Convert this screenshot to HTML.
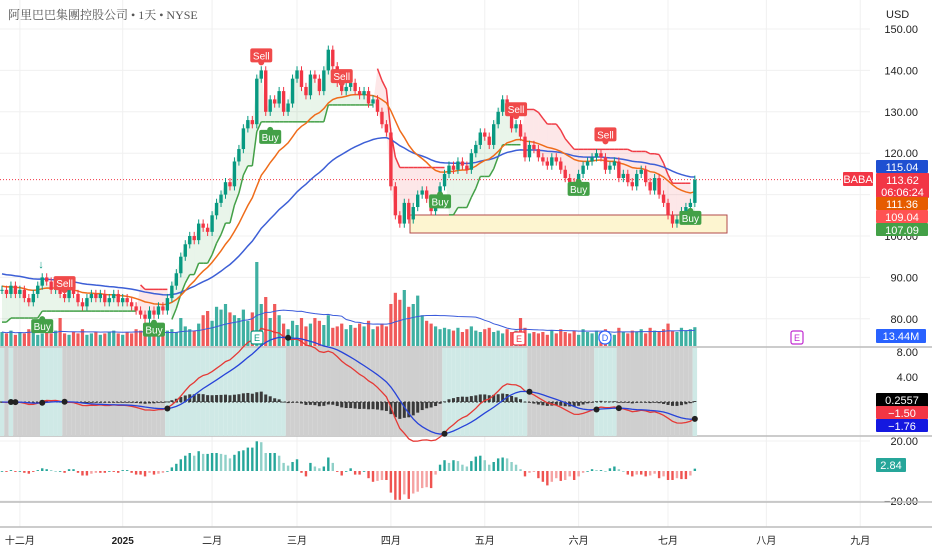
<!DOCTYPE html>
<html><head><meta charset="utf-8">
<style>
html,body{margin:0;padding:0;background:#fff;}
svg{display:block;font-family:"Liberation Sans","Noto Sans CJK SC",sans-serif;}
</style></head>
<body>
<svg id="chart" width="932" height="550" viewBox="0 0 932 550" xmlns="http://www.w3.org/2000/svg">
<rect width="932" height="550" fill="#fff"/>
<g id="grid"></g>
<g id="bg"></g>
<g id="marks"></g>
<g id="ann"></g>
<text x="8" y="19" font-size="12" fill="#555" font-family="'Liberation Serif','Noto Serif CJK SC',serif">阿里巴巴集團控股公司 • 1天 • NYSE</text>
<text x="886" y="18" font-size="11" fill="#222">USD</text>
</svg>
<script>
const closes=[87,86,88,86,87,85,84,86,88,90,
89,87,88,86,85,87,86,84,83,85,
86,85,86,84,85,86,84,85,84,83,
82,81,80,82,81,83,82,85,88,91,
95,98,100,99,103,102,101,105,108,110,
113,112,118,121,126,128,127,138,140,130,
133,132,135,130,132,138,140,136,134,139,
138,135,140,145,141,137,135,136,137,135,
134,135,132,133,130,127,125,112,105,103,
108,104,107,110,111,109,106,108,112,115,
117,116,118,117,116,120,122,125,124,122,
127,130,133,131,126,127,124,119,122,121,
119,118,117,119,118,116,114,113,112,115,
117,118,119,120,119,116,117,118,114,115,
113,112,115,116,113,111,114,110,108,105,
103,104,106,107,108,113.6];
const volumes=[10,9,11,8,10,9,12,10,8,9,
10,9,11,20,9,8,10,9,12,8,
9,10,8,9,10,11,9,8,10,9,
12,11,10,9,8,10,9,11,12,10,
20,14,12,11,16,22,25,18,28,26,
30,24,22,20,26,18,24,60,30,35,
20,30,22,16,12,18,15,20,14,16,
20,18,15,22,13,14,16,12,15,13,
16,14,18,12,14,16,14,30,38,33,
40,28,30,36,22,18,16,14,12,13,
12,11,13,10,12,14,11,10,12,13,
10,11,9,12,10,11,20,13,9,10,
9,10,8,11,9,12,10,9,11,8,
12,10,9,11,10,12,9,8,13,10,
9,11,10,12,9,13,11,10,12,16,
11,10,13,11,12,13.44];
const priceTicks=[150,140,130,120,110,100,90,80];
const monthLabels=["十二月","2025","二月","三月","四月","五月","六月","七月","八月","九月"];
const monthIdx=[4,27,47,66,87,108,129,149,171,192];
const signalsBuy=[9,34,60,98,129,154];
const signalsSell=[14,58,76,115,135];
const macdTicks=[8,4];
const oscTicks=[20,-20];

const NS="http://www.w3.org/2000/svg";
function el(tag,attrs,parent,txt){const e=document.createElementNS(NS,tag);for(const k in attrs)e.setAttribute(k,attrs[k]);if(txt!==undefined)e.textContent=txt;(parent||document.getElementById('marks')).appendChild(e);return e;}
const X=i=>2+i*4.47;
const YP=p=>29+(150-p)*4.14;
const YV=v=>346-v*1.4;
const YM=m=>402-m*6.25;
const YO=o=>471-o*1.5;
const n=closes.length;
const grid=document.getElementById('grid'),bg=document.getElementById('bg'),marks=document.getElementById('marks'),ann=document.getElementById('ann');

monthIdx.forEach((mi,k)=>{const l=el('line',{x1:X(mi),x2:X(mi),y1:0,y2:527,stroke:'#f0f0f0','stroke-width':1},grid);

const t=el('text',{x:X(mi),y:544,'font-size':10,'text-anchor':'middle',fill:'#222','font-weight':k==1?'bold':'normal'},grid,monthLabels[k]);
});
priceTicks.forEach(p=>{el('line',{x1:0,x2:870,y1:YP(p),y2:YP(p),stroke:'#f0f0f0'},grid);
const t=el('text',{x:918,y:YP(p)+4,'font-size':11,'text-anchor':'end',fill:'#222'},grid,p.toFixed(2));
});
macdTicks.forEach(m=>{const t=el('text',{x:918,y:YM(m)+4,'font-size':11,'text-anchor':'end',fill:'#222'},grid,m.toFixed(2));
});
oscTicks.forEach(o=>{el('line',{x1:0,x2:870,y1:YO(o),y2:YO(o),stroke:'#f0f0f0'},grid);
const t=el('text',{x:918,y:YO(o)+4,'font-size':11,'text-anchor':'end',fill:'#222'},grid,(o<0?'−':'')+Math.abs(o).toFixed(2));
});
[347,436,502,527].forEach(y=>el('line',{x1:0,x2:932,y1:y,y2:y,stroke:'#bbb','stroke-width':1.5},grid));

function ema(a,p,seed){const k=2/(p+1);let r=[],v=seed!==undefined?seed:a[0];a.forEach((c,i)=>{v=i==0&&seed===undefined?c:c*k+v*(1-k);r.push(v);});return r;}
const emaS=ema(closes,20,88);
const emaL=ema(closes,50,91);
const e26=ema(closes,26,87);
const macd=ema(closes,12,87).map((v,i)=>v-e26[i]);
const sig=ema(macd,9,0);
let st=[],dir=[],atr=3;let up=closes[0]-6,dn=closes[0]+6,d=1;
for(let i=0;i<n;i++){const tr=i?Math.abs(closes[i]-closes[i-1])+1.5:3;atr=(atr*9+tr)/10;
const bu=closes[i]-2.6*atr,bd=closes[i]+2.6*atr;
up=(i&&closes[i-1]>up)?Math.max(bu,up):bu;dn=(i&&closes[i-1]<dn)?Math.min(bd,dn):bd;
if(d==1&&closes[i]<up)d=-1;else if(d==-1&&closes[i]>dn)d=1;
st.push(d==1?up:dn);dir.push(d);}

for(let i=0;i<n;i++){el('rect',{x:X(i)-2.24,y:348,width:4.48,height:88,fill:macd[i]>=sig[i]?'#cfe9e6':'#cfcfcf'},bg);}
for(let i=0;i<n;i++){const o=i?closes[i-1]:closes[0],up=closes[i]>=o;
const r=el('rect',{x:X(i)-1.6,y:YV(volumes[i]),width:3.2,height:346-YV(volumes[i]),fill:up?'#3fb0a2':'#f05a5a'});
}
let vma=volumes.map((v,i)=>{const s=volumes.slice(Math.max(0,i-19),i+1);return s.reduce((a,b)=>a+b,0)/s.length;});
const vl=el('polyline',{points:vma.map((v,i)=>X(i)+','+YV(v)).join(' '),fill:'none',stroke:'#3b5bdb','stroke-width':1});


for(let i=1;i<n;i++){const c=dir[i]==1?'rgba(76,175,80,0.12)':'rgba(242,54,69,0.12)';
el('polygon',{points:`${X(i-1)},${YP(st[i-1])} ${X(i)},${YP(st[i])} ${X(i)},${YP(closes[i])} ${X(i-1)},${YP(closes[i-1])}`,fill:c});}
const bx=el('rect',{x:410,y:215,width:317,height:18,fill:'#fdf5d0',stroke:'#b24a4a','stroke-width':1});

el('line',{x1:0,x2:843,y1:YP(113.62),y2:YP(113.62),stroke:'#f23645','stroke-dasharray':'1,2','stroke-width':1});
for(let i=1;i<n;i++){if(dir[i]!=dir[i-1])continue;el('line',{x1:X(i-1),y1:YP(st[i-1]),x2:X(i),y2:YP(st[i]),stroke:dir[i]==1?'#43a047':'#f03c46','stroke-width':1.5});}
const l1=el('polyline',{points:emaL.map((v,i)=>X(i)+','+YP(v)).join(' '),fill:'none',stroke:'#3d5fd6','stroke-width':1.5});

const l2=el('polyline',{points:emaS.map((v,i)=>X(i)+','+YP(v)).join(' '),fill:'none',stroke:'#ef6c1a','stroke-width':1.5});

for(let i=0;i<n;i++){const o=i?closes[i-1]:closes[0],c=closes[i],up=c>=o,col=up?'#089981':'#f23645';
const hi=Math.max(o,c)+1,lo=Math.min(o,c)-1;
el('line',{x1:X(i),x2:X(i),y1:YP(hi),y2:YP(lo),stroke:col,'stroke-width':1});
const b=el('rect',{x:X(i)-1.7,y:YP(Math.max(o,c)),width:3.4,height:Math.max(1,Math.abs(YP(o)-YP(c))),fill:col});
}
function tag(i,y,txt,col,below){const g=el('g',{},ann);

el('rect',{x:X(i)-11,y:y,width:22,height:14,rx:2,fill:col},g);
el('circle',{cx:X(i),cy:below?y:y+14,r:3,fill:col},g);
el('text',{x:X(i),y:y+11,'font-size':10,'text-anchor':'middle',fill:'#fff'},g,txt);}
signalsSell.forEach(i=>tag(i,YP(Math.max(closes[i],st[i]))-22,'Sell','#f04a4a',false));
signalsBuy.forEach(i=>tag(i,YP(Math.min(closes[i],st[i]))+8,'Buy','#43a047',true));
for(let i=0;i<n;i++){const h=(macd[i]-sig[i])*0.6;const r=el('rect',{x:X(i)-1.5,y:Math.min(YM(0),YM(h)),width:3,height:Math.max(0.8,Math.abs(YM(h)-YM(0))),fill:'#3a3a3a'});
}
el('line',{x1:0,x2:X(n-1),y1:YM(0),y2:YM(0),stroke:'#333','stroke-dasharray':'2,2'});
const ml=el('polyline',{points:macd.map((v,i)=>X(i)+','+YM(v)).join(' '),fill:'none',stroke:'#e53935','stroke-width':1.3});

const sl=el('polyline',{points:sig.map((v,i)=>X(i)+','+YM(v)).join(' '),fill:'none',stroke:'#2743d9','stroke-width':1.3});

for(let i=1;i<n;i++){if((macd[i]-sig[i])*(macd[i-1]-sig[i-1])<0)el('circle',{cx:X(i),cy:YM(sig[i]),r:3,fill:'#222'});}
for(let i=0;i<n;i++){const o=i>=10?closes[i]-closes[i-10]:closes[i]-closes[0];const prev=i>=11?closes[i-1]-closes[i-11]:0;
const col=o>=0?(o>=prev?'#26a69a':'#8fd0c8'):(o<=prev?'#ef5350':'#f5a3a3');
const r=el('rect',{x:X(i)-1.2,y:Math.min(YO(0),YO(o*0.6)),width:2.4,height:Math.max(0.8,Math.abs(YO(o*0.6)-YO(0))),fill:col});
}
function evt(x,y,t,col){const g=el('g',{},ann);
el('rect',{x:x-6,y:y-6,width:12,height:13,rx:t=='D'?6:2,fill:'#fff',stroke:col,'stroke-width':1.2},g);
el('text',{x:x,y:y+4,'font-size':9,'text-anchor':'middle',fill:col},g,t);}
evt(257,337,'E','#089981');evt(519,338,'E','#f23645');evt(605,337,'D','#2962ff');evt(797,337,'E','#c02bd0');
el('text',{x:41,y:268,'font-size':11,'text-anchor':'middle',fill:'#089981'},ann,'↓');
function ptag(x,y,w,h,col,lines){const g=el('g',{},ann);
el('rect',{x:x,y:y,width:w,height:h,fill:col,rx:1},g);
lines.forEach((t,k)=>el('text',{x:x+w/2,y:y+11+k*12,'font-size':11,'text-anchor':'middle',fill:'#fff'},g,t));}
ptag(843,172,30,14,'#f23645',['BABA']);
ptag(876,160,52,13,'#1e4fd1',['115.04']);
ptag(876,173,53,25,'#f23645',['113.62','06:06:24']);
ptag(876,197,52,13,'#e65c00',['111.36']);
ptag(876,210,52,13,'#ff5252',['109.04']);
ptag(876,223,52,13,'#43a047',['107.09']);
ptag(876,329,50,14,'#2962ff',['13.44M']);
ptag(876,393,52,14,'#000',['0.2557']);
ptag(876,406,52,13,'#f23645',['−1.50']);
ptag(876,419,52,13,'#1418e0',['−1.76']);
ptag(876,458,30,14,'#26a69a',['2.84']);
</script>
</body></html>
